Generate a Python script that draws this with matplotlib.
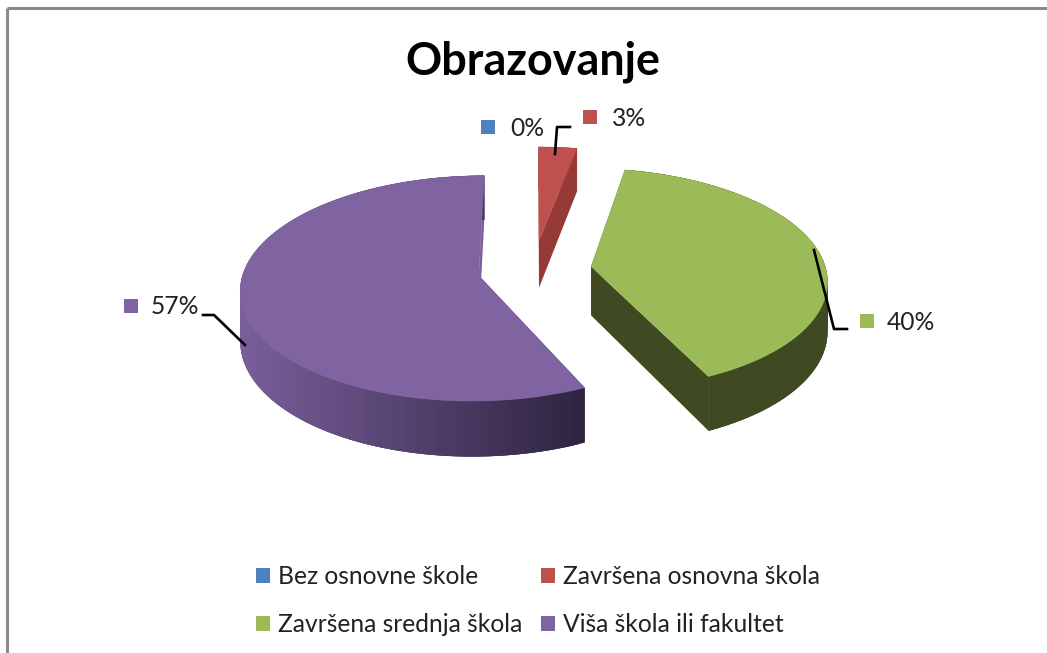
import numpy as np
import matplotlib
matplotlib.use('Agg')
import matplotlib.pyplot as plt
from matplotlib.patches import Patch, Polygon
from matplotlib.collections import PolyCollection

plt.rcParams['font.family'] = ['Lato', 'DejaVu Sans']

title = 'Obrazovanje'
categories = ['Bez osnovne škole', 'Završena osnovna škola', 'Završena srednja škola', 'Viša škola ili fakultet']
values = [0, 3, 40, 57]
colors = ['#4f81bd', '#c0504d', '#9bbb59', '#8064a2']
side_colors = ['#3a5f8a', '#953a37', '#3f4a22', '#7a5f9b']
side_dark = ['#3a5f8a', '#953a37', '#3f4a22', '#2e2440']

# pie geometry in pixels
cx, cy = 533, 270
rx, ry = 235, 110
k = 0.112
explode = [0.235, 0.28, 0.25, 0.235]
depth = 49


def project(X, Y):
    w = 1 + k * Y
    return cx + rx * X / w, cy - ry * Y / w, depth / w


def draw_slice(ax, start, sweep, color, side_a, side_b, exp):
    mid = start + sweep / 2
    ox, oy = exp * np.sin(mid), exp * np.cos(mid)
    th = np.linspace(start, start + sweep, 150)
    X = np.concatenate([[ox], ox + np.sin(th)])
    Y = np.concatenate([[oy], oy + np.cos(th)])
    sx, sy, d = project(X, Y)
    # radial faces
    for i in [1, len(sx) - 1]:
        ax.add_patch(Polygon([(sx[0], sy[0]), (sx[i], sy[i]), (sx[i], sy[i] + d[i]), (sx[0], sy[0] + d[0])],
                             fc=side_b if i == 1 else side_a, ec='none', zorder=2))
    # outer wall, shaded along x; each quad runs over the next one so no seams show
    quads, cols = [], []
    c0 = np.array(matplotlib.colors.to_rgb(side_a))
    c1 = np.array(matplotlib.colors.to_rgb(side_b))
    x0, x1 = sx[1:].min(), sx[1:].max()
    n = len(sx) - 1
    for i in range(1, n):
        j = min(i + 3, n)
        quads.append([(sx[i], sy[i]), (sx[j], sy[j]), (sx[j], sy[j] + d[j]), (sx[i], sy[i] + d[i])])
        t = (sx[i] - x0) / max(x1 - x0, 1)
        cols.append(c0 + (c1 - c0) * t)
    pc = PolyCollection(quads, facecolors=cols, edgecolors='none', zorder=2)
    ax.add_collection(pc)
    ax.add_patch(Polygon(np.column_stack([sx, sy]), fc=color, ec=color, lw=0.3, zorder=3))


fig = plt.figure(figsize=(10.47, 6.53), dpi=100)
ax = fig.add_axes([0, 0, 1, 1])
ax.set_xlim(0, 1047)
ax.set_ylim(653, 0)
ax.axis('off')

# chart frame
ax.plot([7, 7], [653, 8], color='#8a8a8a', lw=2.2, zorder=1, solid_capstyle='butt')
ax.plot([7, 1047], [8, 8], color='#8a8a8a', lw=2.2, zorder=1, solid_capstyle='butt')

ax.text(533, 62, title, fontsize=32.3, fontweight='bold', ha='center', va='center', color='black')

angle = 0
total = sum(values)
for v, c, s1, s2, e in zip(values, colors, side_colors, side_dark, explode):
    sweep = 2 * np.pi * v / total
    if v > 0:
        draw_slice(ax, angle, sweep, c, s1, s2, e)
    angle += sweep

# data labels: swatch x, y, text x, y
label_pos = [(488, 127, 510, 129), (590, 117, 612, 118), (867, 321, 887, 322), (131, 306, 151, 307)]
for v, c, (sw_x, sw_y, tx, ty) in zip(values, colors, label_pos):
    ax.scatter([sw_x], [sw_y], marker='s', s=115, color=c, linewidths=0, zorder=5)
    ax.text(tx, ty, f'{v}%', fontsize=17.7, ha='left', va='center', color='#222222')

# leader lines
leaders = [[(555, 154), (557, 127), (570, 127)],
           [(814, 250), (834, 329), (847, 329)],
           [(245, 345), (214, 315), (203, 315)]]
for pts in leaders:
    ax.plot(*zip(*pts), color='black', lw=1.9, zorder=6)

order = [0, 2, 1, 3]
handles = [Patch(fc=colors[i], ec='none', label=categories[i]) for i in order]
ax.legend(handles=handles, ncol=2, loc='upper left', bbox_to_anchor=(233.5 / 1047, 1 - 543 / 653),
          frameon=False, fontsize=17.7, handlelength=0.57, handleheight=0.57, handletextpad=0.33,
          columnspacing=0.77, labelspacing=1.03, labelcolor='#222222')

fig.savefig('out.png', dpi=100)
